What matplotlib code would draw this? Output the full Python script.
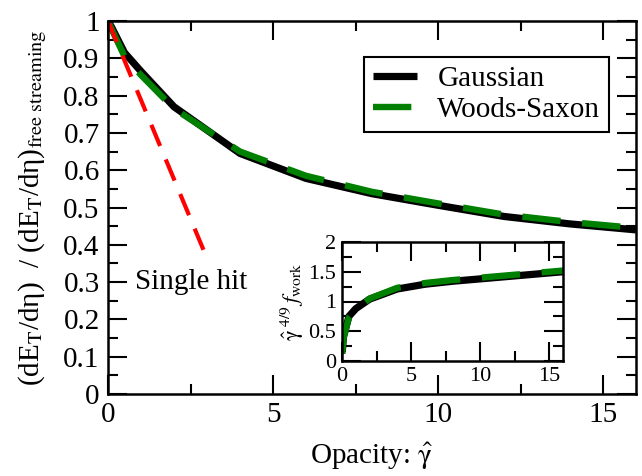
import numpy as np
import matplotlib
matplotlib.use("Agg")
import matplotlib.pyplot as plt
from matplotlib.ticker import MultipleLocator

plt.rcParams['font.family'] = ['Liberation Serif', 'DejaVu Serif']
plt.rcParams['mathtext.fontset'] = 'stix'

# main panel: energy ratio vs opacity
gamma = [0, 0.1, 0.5, 1, 2, 4, 6, 8, 10, 12, 14, 16]
gauss = [1.0, 0.985, 0.915, 0.865, 0.77, 0.645, 0.578, 0.537, 0.506, 0.476, 0.456, 0.44]
woods = [1.0, 0.98, 0.905, 0.855, 0.765, 0.65, 0.585, 0.542, 0.511, 0.481, 0.461, 0.445]

# single hit estimate
single_x = [0, 2.9]
single_y = [1.0, 0.385]

# inset: gamma^(4/9) f_work
gamma_in = [0.02, 0.1, 0.5, 1, 2, 4, 6, 8, 10, 12, 14, 16]
gauss_in = [0.15, 0.40, 0.75, 0.88, 1.04, 1.21, 1.29, 1.34, 1.38, 1.42, 1.46, 1.50]
woods_in = [0.12, 0.38, 0.73, 0.86, 1.05, 1.23, 1.31, 1.36, 1.40, 1.44, 1.48, 1.52]

yticks_main = [0, 0.1, 0.2, 0.3, 0.4, 0.5, 0.6, 0.7, 0.8, 0.9, 1]
ylabels_main = ['0', '0.1', '0.2', '0.3', '0.4', '0.5', '0.6', '0.7', '0.8', '0.9', '1']
yticks_in = [0, 0.5, 1, 1.5, 2]
ylabels_in = ['0', '0.5', '1', '1.5', '2']

fig = plt.figure(figsize=(6.42, 4.76), dpi=100)
ax = fig.add_axes([108/642, 82/476, 528/642, 373/476])

ax.plot(gamma, gauss, color='black', lw=5.2, solid_capstyle='butt', label='Gaussian')
ax.plot(gamma, woods, color='#008000', lw=4.6, linestyle=(0, (6.0, 3.4)), label='Woods-Saxon')
ax.plot(single_x, single_y, color='red', lw=3.0, linestyle=(0, (5.5, 3.5)))

ax.set_xlim(0, 16)
ax.set_ylim(0, 1)
ax.xaxis.set_major_locator(MultipleLocator(5))
ax.xaxis.set_minor_locator(MultipleLocator(2.5))
ax.set_yticks(yticks_main)
ax.set_yticklabels(ylabels_main)
ax.yaxis.set_minor_locator(MultipleLocator(0.05))
ax.tick_params(which='both', direction='in', top=True, right=True, width=1.5, labelsize=21)
ax.tick_params(which='major', length=14, pad=6)
ax.tick_params(which='minor', length=7)
for s in ax.spines.values():
    s.set_linewidth(1.8)

ax.set_xlabel(r'Opacity: $\hat{\mathrm{\gamma}}$', fontsize=21, labelpad=9)
ax.set_ylabel(r'(dE$_\mathrm{T}$/dη)  / (dE$_\mathrm{T}$/dη)$_\mathrm{free\ streaming}$',
              fontsize=21, labelpad=10)
ax.text(0.82, 0.30, 'Single hit', fontsize=21, va='center', ha='left')

leg = ax.legend(loc='upper right', bbox_to_anchor=(0.949, 0.903), borderaxespad=0,
                fontsize=21, fancybox=False, framealpha=1, edgecolor='black',
                handlelength=1.5, handletextpad=0.7, borderpad=0.3, labelspacing=0.15)
leg.get_frame().set_linewidth(1.5)

# inset
axi = fig.add_axes([342/642, 115/476, 221/642, 119/476])
axi.plot(gamma_in, gauss_in, color='black', lw=5.2, solid_capstyle='butt')
axi.plot(gamma_in, woods_in, color='#008000', lw=4.6, linestyle=(0, (6.0, 3.4)))
axi.set_xlim(0, 16)
axi.set_ylim(0, 2)
axi.xaxis.set_major_locator(MultipleLocator(5))
axi.xaxis.set_minor_locator(MultipleLocator(2.5))
axi.set_yticks(yticks_in)
axi.set_yticklabels(ylabels_in)
axi.yaxis.set_minor_locator(MultipleLocator(0.25))
axi.tick_params(which='both', direction='in', top=True, right=True, width=1.5, labelsize=16)
axi.tick_params(which='major', length=14, pad=4)
axi.tick_params(which='minor', length=7)
for s in axi.spines.values():
    s.set_linewidth(1.8)
axi.set_ylabel(r'$\hat{\mathrm{\gamma}}^{\ 4/9}\, f_\mathrm{work}$', fontsize=16, labelpad=2)

fig.savefig('out.png', dpi=100)
